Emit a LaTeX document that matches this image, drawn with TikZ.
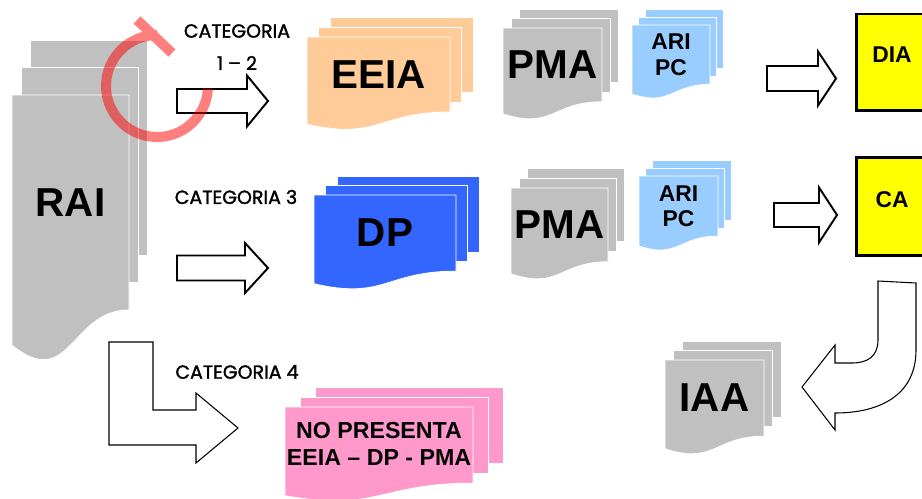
\documentclass[tikz,border=0pt]{standalone}
\usepackage{fontspec}
\setmainfont{Liberation Sans}
\newfontfamily\catfont[FakeBold=1.6]{Poppins}

\definecolor{docgray}{HTML}{C0C0C0}
\definecolor{docorange}{HTML}{FFCC99}
\definecolor{docsky}{HTML}{99CCFF}
\definecolor{docblue}{HTML}{3366FF}
\definecolor{docpink}{HTML}{FF99CC}
\definecolor{docyellow}{HTML}{FFFF00}

% stack of three sheets: name, x, y, width, height, dx, dy, colour
\newcommand\docstack[8]{%
  \path[sheet=#8] ({#2+2*#6},{#3-2*#7}) rectangle ++(#4,{0.802*#5});
  \path[sheet=#8] ({#2+#6},{#3-#7}) rectangle ++(#4,{0.802*#5});
  \path[sheet=#8] (#2,#3) -- ++(#4,0) -- ++(0,{0.802*#5})
    .. controls ({#2+0.5*#4},{#3+0.802*#5}) and ({#2+0.5*#4},{#3+1.108*#5}) .. (#2,{#3+0.934*#5}) -- cycle;
  \coordinate (#1) at ({#2+0.5*#4},{#3+0.4*#5});
}

% block arrow: x start, y centre, x head base, x tip, half shaft, half head
\newcommand\blockarrow[6]{%
  \path[fatarrow] (#1,{#2-#5}) -- (#3,{#2-#5}) -- (#3,{#2-#6}) -- (#4,#2)
    -- (#3,{#2+#6}) -- (#3,{#2+#5}) -- (#1,{#2+#5}) -- cycle;
}

\begin{document}
\begin{tikzpicture}[
    x=0.02cm, y=-0.02cm,
    sheet/.style={fill=#1, draw=white, line width=0.5pt},
    fatarrow/.style={fill=white, draw=black, line width=1.1pt, line join=miter},
    thinarrow/.style={fill=white, draw=black, line width=0.6pt, line join=miter},
    resultbox/.style={fill=docyellow, draw=black, line width=1.7pt},
    bigtxt/.style={inner sep=0pt, font=\bfseries\fontsize{23}{23}\selectfont},
    smalltxt/.style={inner sep=0pt, align=center, font=\bfseries\fontsize{13}{14.4}\selectfont},
    cattxt/.style={inner sep=0pt, font=\catfont\fontsize{10.8}{18}\selectfont},
    loopmark/.style={draw=red, draw opacity=0.5, line width=5.7pt},
]
  \useasboundingbox (0,0) rectangle (922,498);
  \clip (0,0) rectangle (922,498);

  \docstack{rai-c}{12}{95}{117}{268}{9}{27.5}{docgray}
  \docstack{eeia-c}{307}{37}{143}{93.5}{11.5}{10}{docorange}
  \docstack{pma1-c}{503}{28}{99}{92}{8}{9.5}{docgray}
  \docstack{ari1-c}{632}{25}{78}{74}{6.5}{8}{docsky}
  \docstack{dp-c}{314}{195}{142}{95}{11.5}{9.5}{docblue}
  \docstack{pma2-c}{511}{188}{97}{92}{8}{10}{docgray}
  \docstack{ari2-c}{639}{176}{79}{75}{6.5}{8}{docsky}
  \docstack{nop-c}{285}{407}{188}{95}{15}{10}{docpink}
  \docstack{iaa-c}{665}{360}{99}{95}{8.5}{9.5}{docgray}

  \node [bigtxt]   (rai)  at (rai-c)   {RAI};
  \node [bigtxt]   (eeia) at (eeia-c)  {EEIA};
  \node [bigtxt]   (pma1) at (pma1-c)  {PMA};
  \node [smalltxt] (ari1) at (ari1-c)  {ARI\\PC};
  \node [bigtxt]   (dp)   at (dp-c)    {DP};
  \node [bigtxt]   (pma2) at (pma2-c)  {PMA};
  \node [smalltxt] (ari2) at (ari2-c)  {ARI\\PC};
  \node [smalltxt, font=\bfseries\fontsize{13.2}{15.3}\selectfont]
                   (nop)  at (379,444) {NO PRESENTA\\EEIA -- DP - PMA};
  \node [bigtxt]   (iaa)  at (iaa-c)   {IAA};

  \path [resultbox] (856,14) rectangle (935,110);
  \path [resultbox] (856,157) rectangle (935,255);
  \node [smalltxt] (dia) at (892,55)  {DIA};
  \node [smalltxt] (ca)  at (892,200) {CA};

  \blockarrow{177}{101}{247}{268}{12}{25.5}
  \blockarrow{177}{268}{245}{268}{12.5}{25}
  \blockarrow{767}{78.5}{818}{836}{12.5}{27}
  \blockarrow{774}{215}{819}{837}{12}{27.5}

  \path [thinarrow] (109,342) -- (153,342) -- (153,410) -- (196,410) -- (196,393)
    -- (238,428) -- (196,463) -- (196,445) -- (109,445) -- cycle;
  \path [thinarrow] (878,281) -- (916,283) -- (916,350)
    .. controls (916,395) and (880,413) .. (835,413) -- (835,430) -- (802,387)
    -- (835,345) -- (835,363) -- (852,363)
    .. controls (868,363) and (878,356) .. (878,340) -- cycle;

  \node [cattxt] (cat1) at (237,31)  {CATEGORIA};
  \node [cattxt] (num1) at (237,63)  {1 – 2};
  \node [cattxt] (cat3) at (236,197) {CATEGORIA 3};
  \node [cattxt] (cat4) at (237,372) {CATEGORIA 4};

  \path [loopmark] (157,86) ++(3:51) arc [start angle=3, end angle=270, radius=51]
    (137,20) -- (172,53);
\end{tikzpicture}
\end{document}
